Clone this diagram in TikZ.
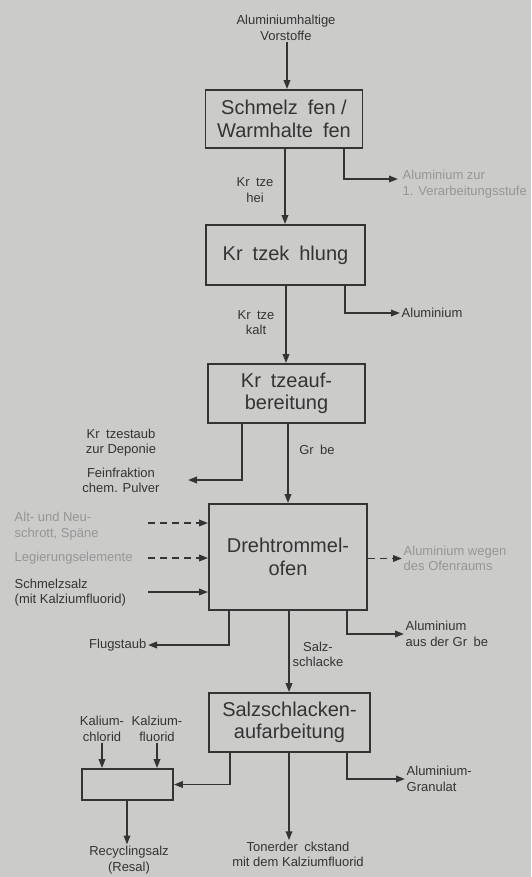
\documentclass[tikz,border=0pt]{standalone}
\usepackage{fontspec}
\setmainfont{Liberation Sans}
\usetikzlibrary{arrows.meta}
\definecolor{bg}{RGB}{203,203,201}
\definecolor{ink}{RGB}{52,52,52}
\definecolor{faded}{RGB}{150,150,150}
\begin{document}
\begin{tikzpicture}[x=1pt,y=-1pt,
  box/.style={draw=ink,line width=1.8pt,inner sep=0pt,align=center,text=ink,
    font=\fontsize{20}{22.5}\selectfont},
  lbl/.style={inner sep=1.5pt,align=center,text=ink,font=\fontsize{13}{15.5}\selectfont},
  lbll/.style={lbl,align=left},
  fade/.style={text=faded},
  conn/.style={draw=ink,line width=1.8pt,-{Triangle[length=9pt,width=6.5pt]}},
  dsh/.style={conn,dash pattern=on 7pt off 5pt}]
\fill[bg] (0,0) rectangle (531,877);
\useasboundingbox (0,0) rectangle (531,877);

% boxes
\node[box,minimum width=157pt,minimum height=58pt] (b1) at (284,119) {Schmelz\enspace fen /\\Warmhalte\enspace fen};
\node[box,minimum width=159pt,minimum height=60pt] (b2) at (285.5,255) {Kr\enspace tzek\enspace hlung};
\node[box,minimum width=157pt,minimum height=59pt] (b3) at (286.5,393.5) {Kr\enspace tzeauf-\\bereitung};
\node[box,minimum width=158pt,minimum height=106pt] (b4) at (288,557) {Drehtrommel-\\ofen};
\node[box,minimum width=161pt,minimum height=59pt] (b5) at (289.5,722.5) {Salzschlacken-\\aufarbeitung};
\node[box,minimum width=91pt,minimum height=31pt] (s) at (127.5,784.5) {};

% labels
\node[lbl] (in) at (286,28) {Aluminiumhaltige\\Vorstoffe};
\node[lbl] (kh) at (255,190) {Kr\enspace tze\\hei};
\node[lbl] (kk) at (256,322.5) {Kr\enspace tze\\kalt};
\node[lbl] (gb) at (317,450) {Gr\enspace be};
\node[lbl] (ss) at (318,654.5) {Salz-\\schlacke};
\node[lbll,fade,anchor=west] (t1) at (401,184) {Aluminium zur\\1. Verarbeitungsstufe};
\node[lbll,anchor=west] (al2) at (400,313) {Aluminium};
\node[lbl] (kd1) at (121,442.5) {Kr\enspace tzestaub\\zur Deponie};
\node[lbl] (kd2) at (121,480.5) {Feinfraktion\\chem. Pulver};
\node[lbll,fade,anchor=west] (l1) at (13,526) {Alt- und Neu-\\schrott, Späne};
\node[lbll,fade,anchor=west] (l2) at (13,558) {Legierungselemente};
\node[lbll,anchor=west] (l3) at (13,592.5) {Schmelzsalz\\(mit Kalziumfluorid)};
\node[lbll,fade,anchor=west] (wo) at (402,558.5) {Aluminium wegen\\des Ofenraums};
\node[lbl,anchor=east] (fl) at (148,645) {Flugstaub};
\node[lbll,anchor=west] (al3) at (404,634) {Aluminium\\aus der Gr\enspace be};
\node[lbll,anchor=west] (ag) at (405,779) {Aluminium-\\Granulat};
\node[lbl] (ka) at (102,729) {Kalium-\\chlorid};
\node[lbl] (kz) at (157,729) {Kalzium-\\fluorid};
\node[lbl] (rs) at (129,860) {Recyclingsalz\\(Resal)};
\node[lbl] (tr) at (298,854.5) {Tonerder\enspace ckstand\\mit dem Kalziumfluorid};

% coordinates
\coordinate (e1) at (398,179);
\coordinate (kde) at (188,480);
\coordinate (a1) at (148,523);
\coordinate (a2) at (148,558);
\coordinate (a3) at (148,592);

% main flow
\draw[conn] (in.south -| 287,0) -- (287,0 |- b1.north);
\draw[conn] (b1.south -| 285,0) -- (285,0 |- b2.north);
\draw[conn] (b2.south -| 286,0) -- (286,0 |- b3.north);
\draw[conn] (b3.south -| 288,0) -- (288,0 |- b4.north);
\draw[conn] (b4.south -| 289,0) -- (289,0 |- b5.north);
\draw[conn] (b5.south -| 289,0) -- (289,0 |- tr.north);

% side branches
\draw[conn] ([xshift=139pt]b1.south west) |- (e1);
\draw[conn] ([xshift=140pt]b2.south west) |- (al2.west);
\draw[conn] ([xshift=35pt]b3.south west) |- (kde);
\draw[dsh] (a1) -- (a1 -| b4.west);
\draw[dsh] (a2) -- (a2 -| b4.west);
\draw[conn] (a3) -- (a3 -| b4.west);
\draw[dsh] (b4.east |- wo.west) -- (wo.west);
\draw[conn] ([xshift=21pt]b4.south west) |- (fl.east);
\draw[conn] ([xshift=139pt]b4.south west) |- (al3.west);
\draw[conn] ([xshift=22pt]b5.south west) |- (s.east);
\draw[conn] ([xshift=139pt]b5.south west) |- (ag.west);
\draw[conn] (ka.south) -- (ka.south |- s.north);
\draw[conn] (kz.south) -- (kz.south |- s.north);
\draw[conn] (s.south -| 127,0) -- (127,0 |- rs.north);
\end{tikzpicture}
\end{document}
